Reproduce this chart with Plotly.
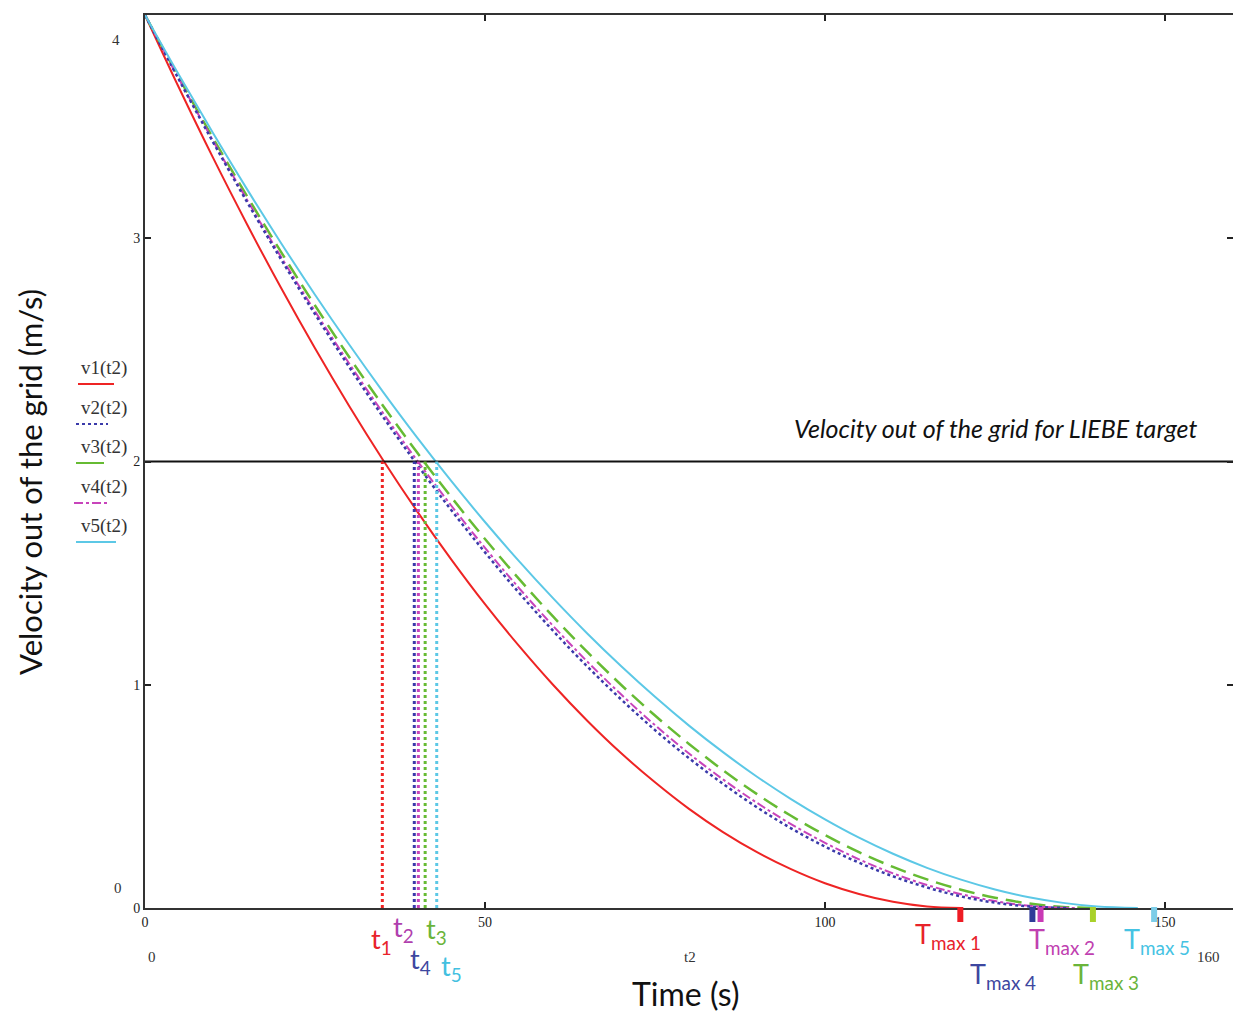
import plotly.graph_objects as go

# ---------------- data ----------------
t_v1 = [0, 5, 10, 15, 20, 25, 30, 35, 40, 45, 50, 55, 60, 65, 70, 75, 80, 85, 90, 95, 100, 105, 110, 115, 120]
v1 = [4.000, 3.674, 3.361, 3.063, 2.778, 2.507, 2.250, 2.007, 1.778, 1.563, 1.361, 1.174, 1.000, 0.840,
      0.694, 0.563, 0.444, 0.340, 0.250, 0.174, 0.111, 0.063, 0.028, 0.007, 0.000]

t_v2 = [0, 5, 10, 15, 20, 25, 30, 35, 40, 45, 50, 55, 60, 65, 70, 75, 80, 85, 90, 95, 100, 105, 110, 115,
        120, 125, 130, 135.5]
v2 = [4.000, 3.710, 3.431, 3.163, 2.906, 2.660, 2.425, 2.200, 1.987, 1.784, 1.593, 1.412, 1.242, 1.083,
      0.935, 0.797, 0.671, 0.556, 0.451, 0.357, 0.275, 0.203, 0.142, 0.092, 0.052, 0.024, 0.007, 0.000]

t_v3 = [0, 5, 10, 15, 20, 25, 30, 35, 40, 45, 50, 55, 60, 65, 70, 75, 80, 85, 90, 95, 100, 105, 110, 115,
        120, 125, 130, 135, 140]
v3 = [4.000, 3.719, 3.449, 3.189, 2.939, 2.699, 2.469, 2.250, 2.041, 1.842, 1.653, 1.474, 1.306, 1.148,
      1.000, 0.862, 0.735, 0.617, 0.510, 0.413, 0.327, 0.250, 0.184, 0.128, 0.082, 0.046, 0.020, 0.005, 0.000]

t_v4 = [0, 5, 10, 15, 20, 25, 30, 35, 40, 45, 50, 55, 60, 65, 70, 75, 80, 85, 90, 95, 100, 105, 110, 115,
        120, 125, 130, 135, 137]
v4 = [4.000, 3.713, 3.437, 3.172, 2.917, 2.673, 2.440, 2.217, 2.005, 1.804, 1.613, 1.433, 1.264, 1.105,
      0.957, 0.819, 0.692, 0.576, 0.471, 0.376, 0.292, 0.218, 0.155, 0.103, 0.062, 0.031, 0.010, 0.001, 0.000]

t_v5 = [0, 5, 10, 15, 20, 25, 30, 35, 40, 45, 50, 55, 60, 65, 70, 75, 80, 85, 90, 95, 100, 105, 110, 115,
        120, 125, 130, 135, 140, 146]
v5 = [4.000, 3.731, 3.471, 3.220, 2.979, 2.747, 2.525, 2.312, 2.108, 1.914, 1.729, 1.554, 1.388, 1.231,
      1.084, 0.946, 0.817, 0.698, 0.588, 0.488, 0.397, 0.315, 0.243, 0.180, 0.127, 0.083, 0.048, 0.023,
      0.007, 0.000]

series_names = ["v1(t2)", "v2(t2)", "v3(t2)", "v4(t2)", "v5(t2)"]

target_velocity = 2.0
# crossing times (order: t1, t4, t3, t2, t5)
t_cross = [34.9, 39.6, 41.2, 40.2, 42.9]
t_cross_labels = ["t<sub>1</sub>", "t<sub>4</sub>", "t<sub>3</sub>", "t<sub>2</sub>", "t<sub>5</sub>"]

# Tmax markers (order: 1, 4, 2, 3, 5)
t_max = [119.9, 130.5, 131.7, 139.4, 148.4]
t_max_labels = ["T<sub>max 1</sub>", "T<sub>max 4</sub>", "T<sub>max 2</sub>", "T<sub>max 3</sub>", "T<sub>max 5</sub>"]

x_ticks = [0, 50, 100, 150]
y_ticks = [0, 1, 2, 3, 4]

# ---------------- styling ----------------
RED = "#ee2424"
BLUE = "#3a3aaa"
GREEN = "#66bb33"
MAGENTA = "#c844bb"
CYAN = "#5cc8e6"

OFF = 8  # page body margin
W, H = 1241 - OFF, 1018 - OFF
L, T, R, B = 145 - OFF, 15 - OFF, 8, 110
PW, PH = W - L - R, H - T - B


def px(x):  # page pixel -> paper
    return (x - OFF - L) / PW


def py(y):
    return (H - B - (y - OFF)) / PH


fig = go.Figure()

curve_specs = [
    (t_v1, v1, RED, "solid", 2),
    (t_v3, v3, GREEN, "16px,8px", 2.5),
    (t_v4, v4, MAGENTA, "dashdot", 2),
    (t_v2, v2, BLUE, "dot", 2.5),
    (t_v5, v5, CYAN, "solid", 2),
]
for tx, vy, col, dash, w in curve_specs:
    fig.add_trace(go.Scatter(x=tx, y=vy, mode="lines", line=dict(color=col, dash=dash, width=w, shape="spline"),
                             showlegend=False, hoverinfo="skip"))

# target line
fig.add_trace(go.Scatter(x=[0, 160], y=[target_velocity, target_velocity], mode="lines",
                         line=dict(color="#111111", width=2), showlegend=False, hoverinfo="skip"))

# vertical dotted lines at crossing times
cross_cols = [RED, BLUE, GREEN, MAGENTA, CYAN]
for tc, col in zip(t_cross, cross_cols):
    fig.add_trace(go.Scatter(x=[tc, tc], y=[0, target_velocity], mode="lines",
                             line=dict(color=col, width=3, dash="3px,3px"), showlegend=False, hoverinfo="skip"))

shapes = []
# Tmax markers (x on data axis, y below the axis in paper units)
marker_cols = ["#ee1c24", "#2e3a98", "#c93ab5", "#a9d12a", "#7ccde8"]
for tm, col in zip(t_max, marker_cols):
    shapes.append(dict(type="line", xref="x", yref="paper", x0=tm, x1=tm, y0=py(907), y1=py(922),
                       line=dict(color=col, width=6), layer="above"))

fig.update_xaxes(range=[0, 160], tickvals=x_ticks, ticktext=[str(v) for v in x_ticks],
                 showgrid=False, zeroline=False, showline=True, linecolor="#333333", linewidth=2,
                 mirror="ticks", ticks="inside", ticklen=6, tickcolor="#222222", tickwidth=2,
                 tickfont=dict(family="Liberation Serif", size=14, color="#222222"))
fig.update_yaxes(range=[0, 4], tickvals=y_ticks, ticktext=[str(v) for v in y_ticks],
                 showgrid=False, zeroline=False, showline=True, linecolor="#333333", linewidth=2,
                 mirror="ticks", ticks="inside", ticklen=6, tickcolor="#222222", tickwidth=2,
                 tickfont=dict(family="Liberation Serif", size=14, color="#222222"))

ann = []
SANS = "Lato"
SERIF = "Liberation Serif"


def add_text(x, y, text, size, color="#111111", family=SANS, angle=0, xanchor="center"):
    ann.append(dict(xref="paper", yref="paper", x=px(x), y=py(y), text=text, showarrow=False,
                    font=dict(family=family, size=size, color=color), textangle=angle,
                    xanchor=xanchor, yanchor="middle"))


# axis titles
add_text(686, 993, "Time (s)", 32)
add_text(30, 482, "Velocity out of the grid (m/s)", 31, angle=-90)
add_text(995, 428, "<i>Velocity out of the grid for LIEBE target</i>", 25)

# Mathcad-style limit labels
add_text(116, 40, "4", 15, "#333333", SERIF)
add_text(118, 888, "0", 15, "#333333", SERIF)
add_text(152, 957, "0", 15, "#333333", SERIF)
add_text(690, 957, "t2", 15, "#333333", SERIF)
add_text(1208, 957, "160", 15, "#333333", SERIF)

# legend (text above sample line)
legend_y = [368, 408, 447, 487, 526]
legend_cols = [RED, BLUE, GREEN, MAGENTA, CYAN]
legend_dash = ["solid", "dot", "solid", "dashdot", "solid"]
legend_x = [(78, 114), (76, 108), (76, 104), (74, 108), (76, 116)]
for name, yy, col, d, (x0, x1) in zip(series_names, legend_y, legend_cols, legend_dash, legend_x):
    add_text(104, yy, name, 19, "#333333", SERIF)
    shapes.append(dict(type="line", xref="paper", yref="paper", x0=px(x0), x1=px(x1),
                       y0=py(yy + 16), y1=py(yy + 16), line=dict(color=col, width=2, dash=d)))

# crossing time labels
t_label_pos = [(381, 940), (420, 960), (436, 930), (403, 928), (451, 967)]
t_label_cols = ["#e8232a", "#3d47a0", "#6ab43a", "#b03fae", "#42c0e0"]
for lab, (x, y), col in zip(t_cross_labels, t_label_pos, t_label_cols):
    add_text(x, y, lab, 27, col)

# Tmax labels
tm_pos = [(948, 935), (1003, 975), (1062, 940), (1106, 975), (1157, 940)]
tm_cols = ["#e8232a", "#3d47a0", "#c040b0", "#6ab43a", "#45c3e3"]
for lab, (x, y), col in zip(t_max_labels, tm_pos, tm_cols):
    add_text(x, y, lab, 27, col)

fig.update_layout(width=W, height=H, margin=dict(l=L, r=R, t=T, b=B, autoexpand=False),
                  paper_bgcolor="white", plot_bgcolor="white", annotations=ann, shapes=shapes,
                  showlegend=False)

fig.write_html("out.html")
